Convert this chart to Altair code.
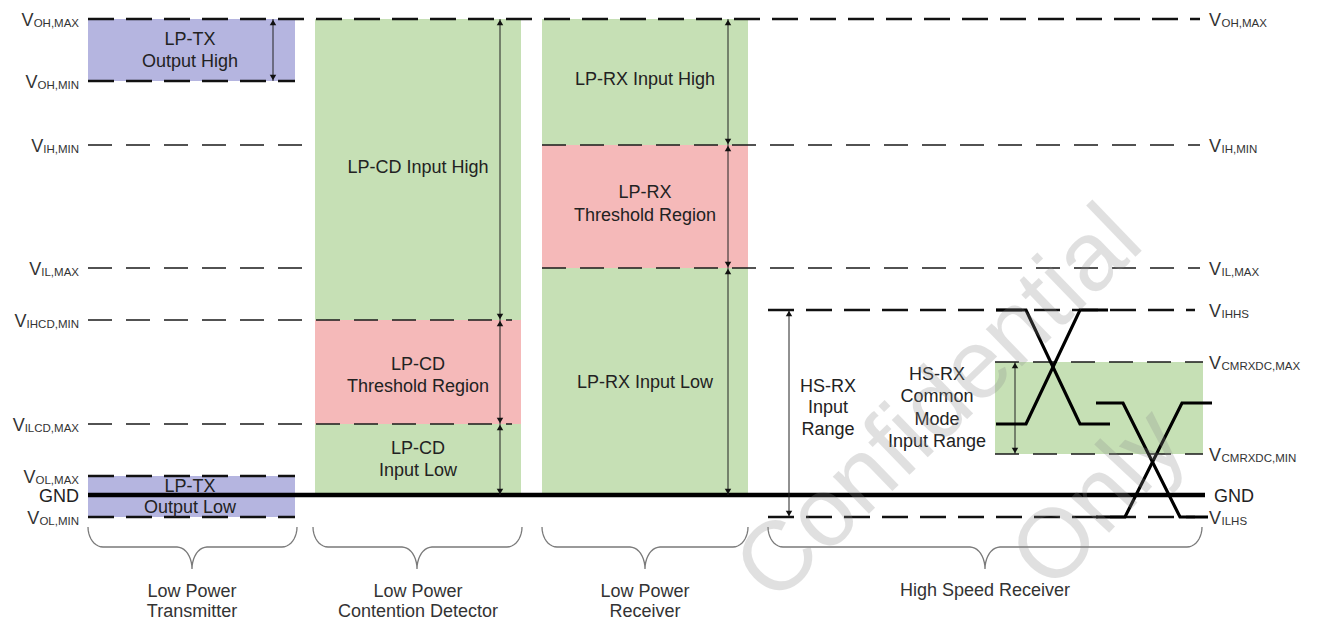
import math
import altair as alt
import pandas as pd

# ---------------- data ----------------
# named signal levels (vertical position in diagram units, top = small)
level_names = ["VOH,MAX", "VOH,MIN", "VIH,MIN", "VIL,MAX", "VIHHS", "VIHCD,MIN",
               "VCMRXDC,MAX", "VILCD,MAX", "VCMRXDC,MIN", "VOL,MAX", "GND", "VOL,MIN", "VILHS"]
level_pos = [19, 81, 145, 268, 310, 320, 362, 424, 454, 476, 495, 517, 517]
LV = dict(zip(level_names, level_pos))

# coloured regions
region_x0 = [88, 88, 315, 315, 315, 542, 542, 542, 995]
region_x1 = [295, 295, 521, 521, 521, 748, 748, 748, 1203]
region_top = ["VOH,MAX", "VOL,MAX", "VOH,MAX", "VIHCD,MIN", "VILCD,MAX", "VOH,MAX", "VIH,MIN", "VIL,MAX", "VCMRXDC,MAX"]
region_bottom = ["VOH,MIN", "VOL,MIN", "VIHCD,MIN", "VILCD,MAX", "GND", "VIH,MIN", "VIL,MAX", "GND", "VCMRXDC,MIN"]
region_kind = ["LP-TX", "LP-TX", "Input", "Threshold", "Input", "Input", "Threshold", "Input", "Input"]
kind_domain = ["LP-TX", "Input", "Threshold"]
kind_colors = ["#b5b5e0", "#c6e0b5", "#f5b9b9"]

# dashed level lines
dash_level = ["VOH,MAX", "VOH,MIN", "VIH,MIN", "VIH,MIN", "VIL,MAX", "VIL,MAX", "VIHCD,MIN", "VILCD,MAX",
              "VOL,MAX", "VOL,MIN", "VIHHS", "VILHS", "VCMRXDC,MAX", "VCMRXDC,MIN"]
dash_x0 = [88, 88, 88, 542, 88, 542, 88, 88, 88, 88, 768, 768, 995, 995]
dash_x1 = [1200, 295, 315, 1200, 315, 1200, 512, 512, 295, 295, 1195, 1195, 1203, 1203]
dash_weight = ["thick", "thick", "thin", "thin", "thin", "thin", "thin", "thin",
               "thick", "thick", "thick", "thick", "thin", "thin"]

# ground rail
gnd_x0, gnd_x1 = 88, 1205

# double headed arrows
arrow_x = [273, 500, 500, 500, 728, 728, 728, 789, 1015]
arrow_top = ["VOH,MAX", "VOH,MAX", "VIHCD,MIN", "VILCD,MAX", "VOH,MAX", "VIH,MIN", "VIL,MAX", "VIHHS", "VCMRXDC,MAX"]
arrow_bottom = ["VOH,MIN", "VIHCD,MIN", "VILCD,MAX", "GND", "VIH,MIN", "VIL,MAX", "GND", "VILHS", "VCMRXDC,MIN"]

# high speed differential waveforms
wave_id = ["A"] * 4 + ["B"] * 4 + ["C"] * 4 + ["D"] * 4
wave_x = [996, 1026, 1080, 1110, 996, 1026, 1080, 1108,
          1096, 1123, 1180, 1208, 1096, 1125, 1182, 1212]
wave_y = [310, 310, 424, 424, 424, 424, 310, 310,
          403, 403, 517, 517, 517, 517, 403, 403]

# braces under each block
brace_x0 = [88, 313, 542, 768]
brace_x1 = [297, 522, 748, 1202]
brace_tip = [192, 417, 645, 985]

# region texts
rl_text = ["LP-TX", "Output High", "LP-CD Input High", "LP-CD", "Threshold Region", "LP-CD", "Input Low",
           "LP-RX Input High", "LP-RX", "Threshold Region", "LP-RX Input Low", "LP-TX", "Output Low",
           "HS-RX", "Input", "Range", "HS-RX", "Common", "Mode", "Input Range"]
rl_x = [190, 190, 418, 418, 418, 418, 418, 645, 645, 645, 645, 190, 190,
        828, 828, 828, 937, 937, 937, 937]
rl_y = [40, 62, 168, 365, 387, 449, 471, 80, 193, 216, 383, 487, 508,
        387, 408, 430, 375, 397, 420, 442]

# block captions
cap_text = ["Low Power", "Transmitter", "Low Power", "Contention Detector", "Low Power", "Receiver",
            "High Speed Receiver"]
cap_x = [192, 192, 418, 418, 645, 645, 985]
cap_y = [592, 612, 592, 612, 592, 612, 591]

# level labels
left_labels = ["VOH,MAX", "VOH,MIN", "VIH,MIN", "VIL,MAX", "VIHCD,MIN", "VILCD,MAX", "VOL,MAX", "VOL,MIN"]
right_labels = ["VOH,MAX", "VIH,MIN", "VIL,MAX", "VIHHS", "VCMRXDC,MAX", "VCMRXDC,MIN", "VILHS"]

# watermark
wm_text = ["Confidential", "Only"]
wm_x = [940, 1100]
wm_y = [405, 500]

# ---------------- helpers ----------------
FONT = "Liberation Sans"
XS = alt.Scale(domain=[8, 1313], nice=False, zero=False)
YS = alt.Scale(domain=[8, 622], nice=False, zero=False, reverse=True)


def X(f):
    return alt.X(f, type="quantitative", scale=XS, axis=None)


def Y(f):
    return alt.Y(f, type="quantitative", scale=YS, axis=None)


ARIAL_W = {'O': .778, 'H': .722, 'M': .833, 'A': .667, 'X': .667, 'I': .278, 'N': .722,
           'L': .556, 'C': .722, 'D': .722, ',': .278, 'R': .722, 'S': .667}
V_FS, SUB_FS = 18, 11.5


def sub_width(s):
    return sum(ARIAL_W.get(c, .6) for c in s) * SUB_FS


# ---------------- tables ----------------
regions = pd.DataFrame({
    "x0": region_x0, "x1": region_x1,
    "y0": [LV[n] for n in region_top], "y1": [LV[n] for n in region_bottom],
    "kind": region_kind,
})

dashes = pd.DataFrame({"x0": dash_x0, "x1": dash_x1, "y": [LV[n] for n in dash_level], "w": dash_weight})

arrows = pd.DataFrame({"x": arrow_x, "y0": [LV[n] for n in arrow_top], "y1": [LV[n] for n in arrow_bottom]})
head_up = pd.DataFrame({"x": arrow_x, "y": [LV[n] + 3.5 for n in arrow_top]})
head_dn = pd.DataFrame({"x": arrow_x, "y": [LV[n] - 3.5 for n in arrow_bottom]})

waves = pd.DataFrame({"id": wave_id, "x": wave_x, "y": wave_y, "o": list(range(len(wave_x)))})

brace_rows = []
TOP, MID, TIP = 527, 547, 569
for bi, (a, b, t) in enumerate(zip(brace_x0, brace_x1, brace_tip)):
    pts = []
    n = 10
    for k in range(n + 1):  # left end
        th = k / n * math.pi / 2
        pts.append((a + 15 - 15 * math.cos(th), TOP + (MID - TOP) * math.sin(th)))
    for k in range(n + 1):  # into tip from left
        th = k / n * math.pi / 2
        pts.append((t - 15 + 15 * math.sin(th), MID + (TIP - MID) * (1 - math.cos(th))))
    for k in range(n + 1):  # out of tip to right
        th = k / n * math.pi / 2
        pts.append((t + 15 - 15 * math.cos(th), TIP - (TIP - MID) * math.sin(th)))
    for k in range(n + 1):  # right end
        th = k / n * math.pi / 2
        pts.append((b - 15 + 15 * math.sin(th), MID - (MID - TOP) * (1 - math.cos(th))))
    for j, (px, py) in enumerate(pts):
        brace_rows.append({"b": bi, "x": px, "y": py, "o": j})
braces = pd.DataFrame(brace_rows)

rlabels = pd.DataFrame({"t": rl_text, "x": rl_x, "y": rl_y})
caps = pd.DataFrame({"t": cap_text, "x": cap_x, "y": cap_y})

LEFT_END = 79
lv_rows, ls_rows = [], []
for name in left_labels:
    sub = name[1:]
    lv_rows.append({"t": "V", "x": LEFT_END - sub_width(sub), "y": LV[name] + 6.5})
    ls_rows.append({"t": sub, "x": LEFT_END, "y": LV[name] + 7.5})
lv_df, ls_df = pd.DataFrame(lv_rows), pd.DataFrame(ls_rows)

RIGHT_START = 1209
rv_rows, rs_rows = [], []
for name in right_labels:
    rv_rows.append({"t": "V", "x": RIGHT_START, "y": LV[name] + 6.5})
    rs_rows.append({"t": name[1:], "x": RIGHT_START + 12.5, "y": LV[name] + 7.5})
rv_df, rs_df = pd.DataFrame(rv_rows), pd.DataFrame(rs_rows)

gnd_lbl = pd.DataFrame({"t": ["GND", "GND"], "x": [LEFT_END, 1214], "y": [LV["GND"] + 6.5] * 2,
                        "side": ["L", "R"]})

# ---------------- layers ----------------
rect_layer = alt.Chart(regions).mark_rect().encode(
    x=X("x0"), x2="x1", y=Y("y0"), y2="y1",
    color=alt.Color("kind:N", scale=alt.Scale(domain=kind_domain, range=kind_colors), legend=None),
)

thin_layer = alt.Chart(dashes[dashes.w == "thin"]).mark_rule(
    color="#1a1a1a", strokeWidth=1.6, strokeDash=[24, 14]).encode(x=X("x0"), x2="x1", y=Y("y"))
thick_layer = alt.Chart(dashes[dashes.w == "thick"]).mark_rule(
    color="#111", strokeWidth=2.6, strokeDash=[26, 12]).encode(x=X("x0"), x2="x1", y=Y("y"))

gnd_layer = alt.Chart(pd.DataFrame({"x0": [gnd_x0], "x1": [gnd_x1], "y": [LV["GND"]]})).mark_rule(
    color="#000", strokeWidth=4.5).encode(x=X("x0"), x2="x1", y=Y("y"))

shaft_layer = alt.Chart(arrows).mark_rule(color="#222", strokeWidth=1).encode(x=X("x"), y=Y("y0"), y2="y1")
up_layer = alt.Chart(head_up).mark_point(shape="triangle-up", filled=True, size=42, color="#111",
                                         opacity=1).encode(x=X("x"), y=Y("y"))
dn_layer = alt.Chart(head_dn).mark_point(shape="triangle-down", filled=True, size=42, color="#111",
                                         opacity=1).encode(x=X("x"), y=Y("y"))

wave_layer = alt.Chart(waves).mark_line(color="#000", strokeWidth=3.2, strokeJoin="miter").encode(
    x=X("x"), y=Y("y"), detail="id:N", order="o:Q")

brace_layer = alt.Chart(braces).mark_line(color="#7a7a7a", strokeWidth=1.3).encode(
    x=X("x"), y=Y("y"), detail="b:N", order="o:Q")

rl_layer = alt.Chart(rlabels).mark_text(font=FONT, fontSize=18, color="#222", align="center",
                                        baseline="middle").encode(x=X("x"), y=Y("y"), text="t:N")
cap_layer = alt.Chart(caps).mark_text(font=FONT, fontSize=18, color="#333", align="center",
                                      baseline="middle").encode(x=X("x"), y=Y("y"), text="t:N")

lv_layer = alt.Chart(lv_df).mark_text(font=FONT, fontSize=V_FS, color="#333", align="right",
                                      baseline="alphabetic").encode(x=X("x"), y=Y("y"), text="t:N")
ls_layer = alt.Chart(ls_df).mark_text(font=FONT, fontSize=SUB_FS, color="#333", align="right",
                                      baseline="alphabetic").encode(x=X("x"), y=Y("y"), text="t:N")
rv_layer = alt.Chart(rv_df).mark_text(font=FONT, fontSize=V_FS, color="#333", align="left",
                                      baseline="alphabetic").encode(x=X("x"), y=Y("y"), text="t:N")
rs_layer = alt.Chart(rs_df).mark_text(font=FONT, fontSize=SUB_FS, color="#333", align="left",
                                      baseline="alphabetic").encode(x=X("x"), y=Y("y"), text="t:N")
gl_layer = alt.Chart(gnd_lbl[gnd_lbl.side == "L"]).mark_text(
    font=FONT, fontSize=18, color="#222", align="right", baseline="alphabetic").encode(
    x=X("x"), y=Y("y"), text="t:N")
gr_layer = alt.Chart(gnd_lbl[gnd_lbl.side == "R"]).mark_text(
    font=FONT, fontSize=18, color="#222", align="left", baseline="alphabetic").encode(
    x=X("x"), y=Y("y"), text="t:N")

wm1 = alt.Chart(pd.DataFrame({"t": [wm_text[0]], "x": [wm_x[0]], "y": [wm_y[0]]})).mark_text(
    font=FONT, fontSize=98, color="#8c8c8c", opacity=0.26, angle=316, align="center",
    baseline="middle").encode(x=X("x"), y=Y("y"), text="t:N")
wm2 = alt.Chart(pd.DataFrame({"t": [wm_text[1]], "x": [wm_x[1]], "y": [wm_y[1]]})).mark_text(
    font=FONT, fontSize=98, color="#8c8c8c", opacity=0.26, angle=313, align="center",
    baseline="middle").encode(x=X("x"), y=Y("y"), text="t:N")

chart = alt.layer(
    rect_layer, thin_layer, thick_layer, gnd_layer, shaft_layer, up_layer, dn_layer,
    wave_layer, brace_layer, rl_layer, cap_layer, lv_layer, ls_layer, rv_layer, rs_layer,
    gl_layer, gr_layer, wm1, wm2,
).properties(width=1305, height=614, padding=0, autosize="none", background="white"
).configure_view(strokeWidth=0)

chart.save("out.html", embed_options={"renderer": "svg", "actions": False})
